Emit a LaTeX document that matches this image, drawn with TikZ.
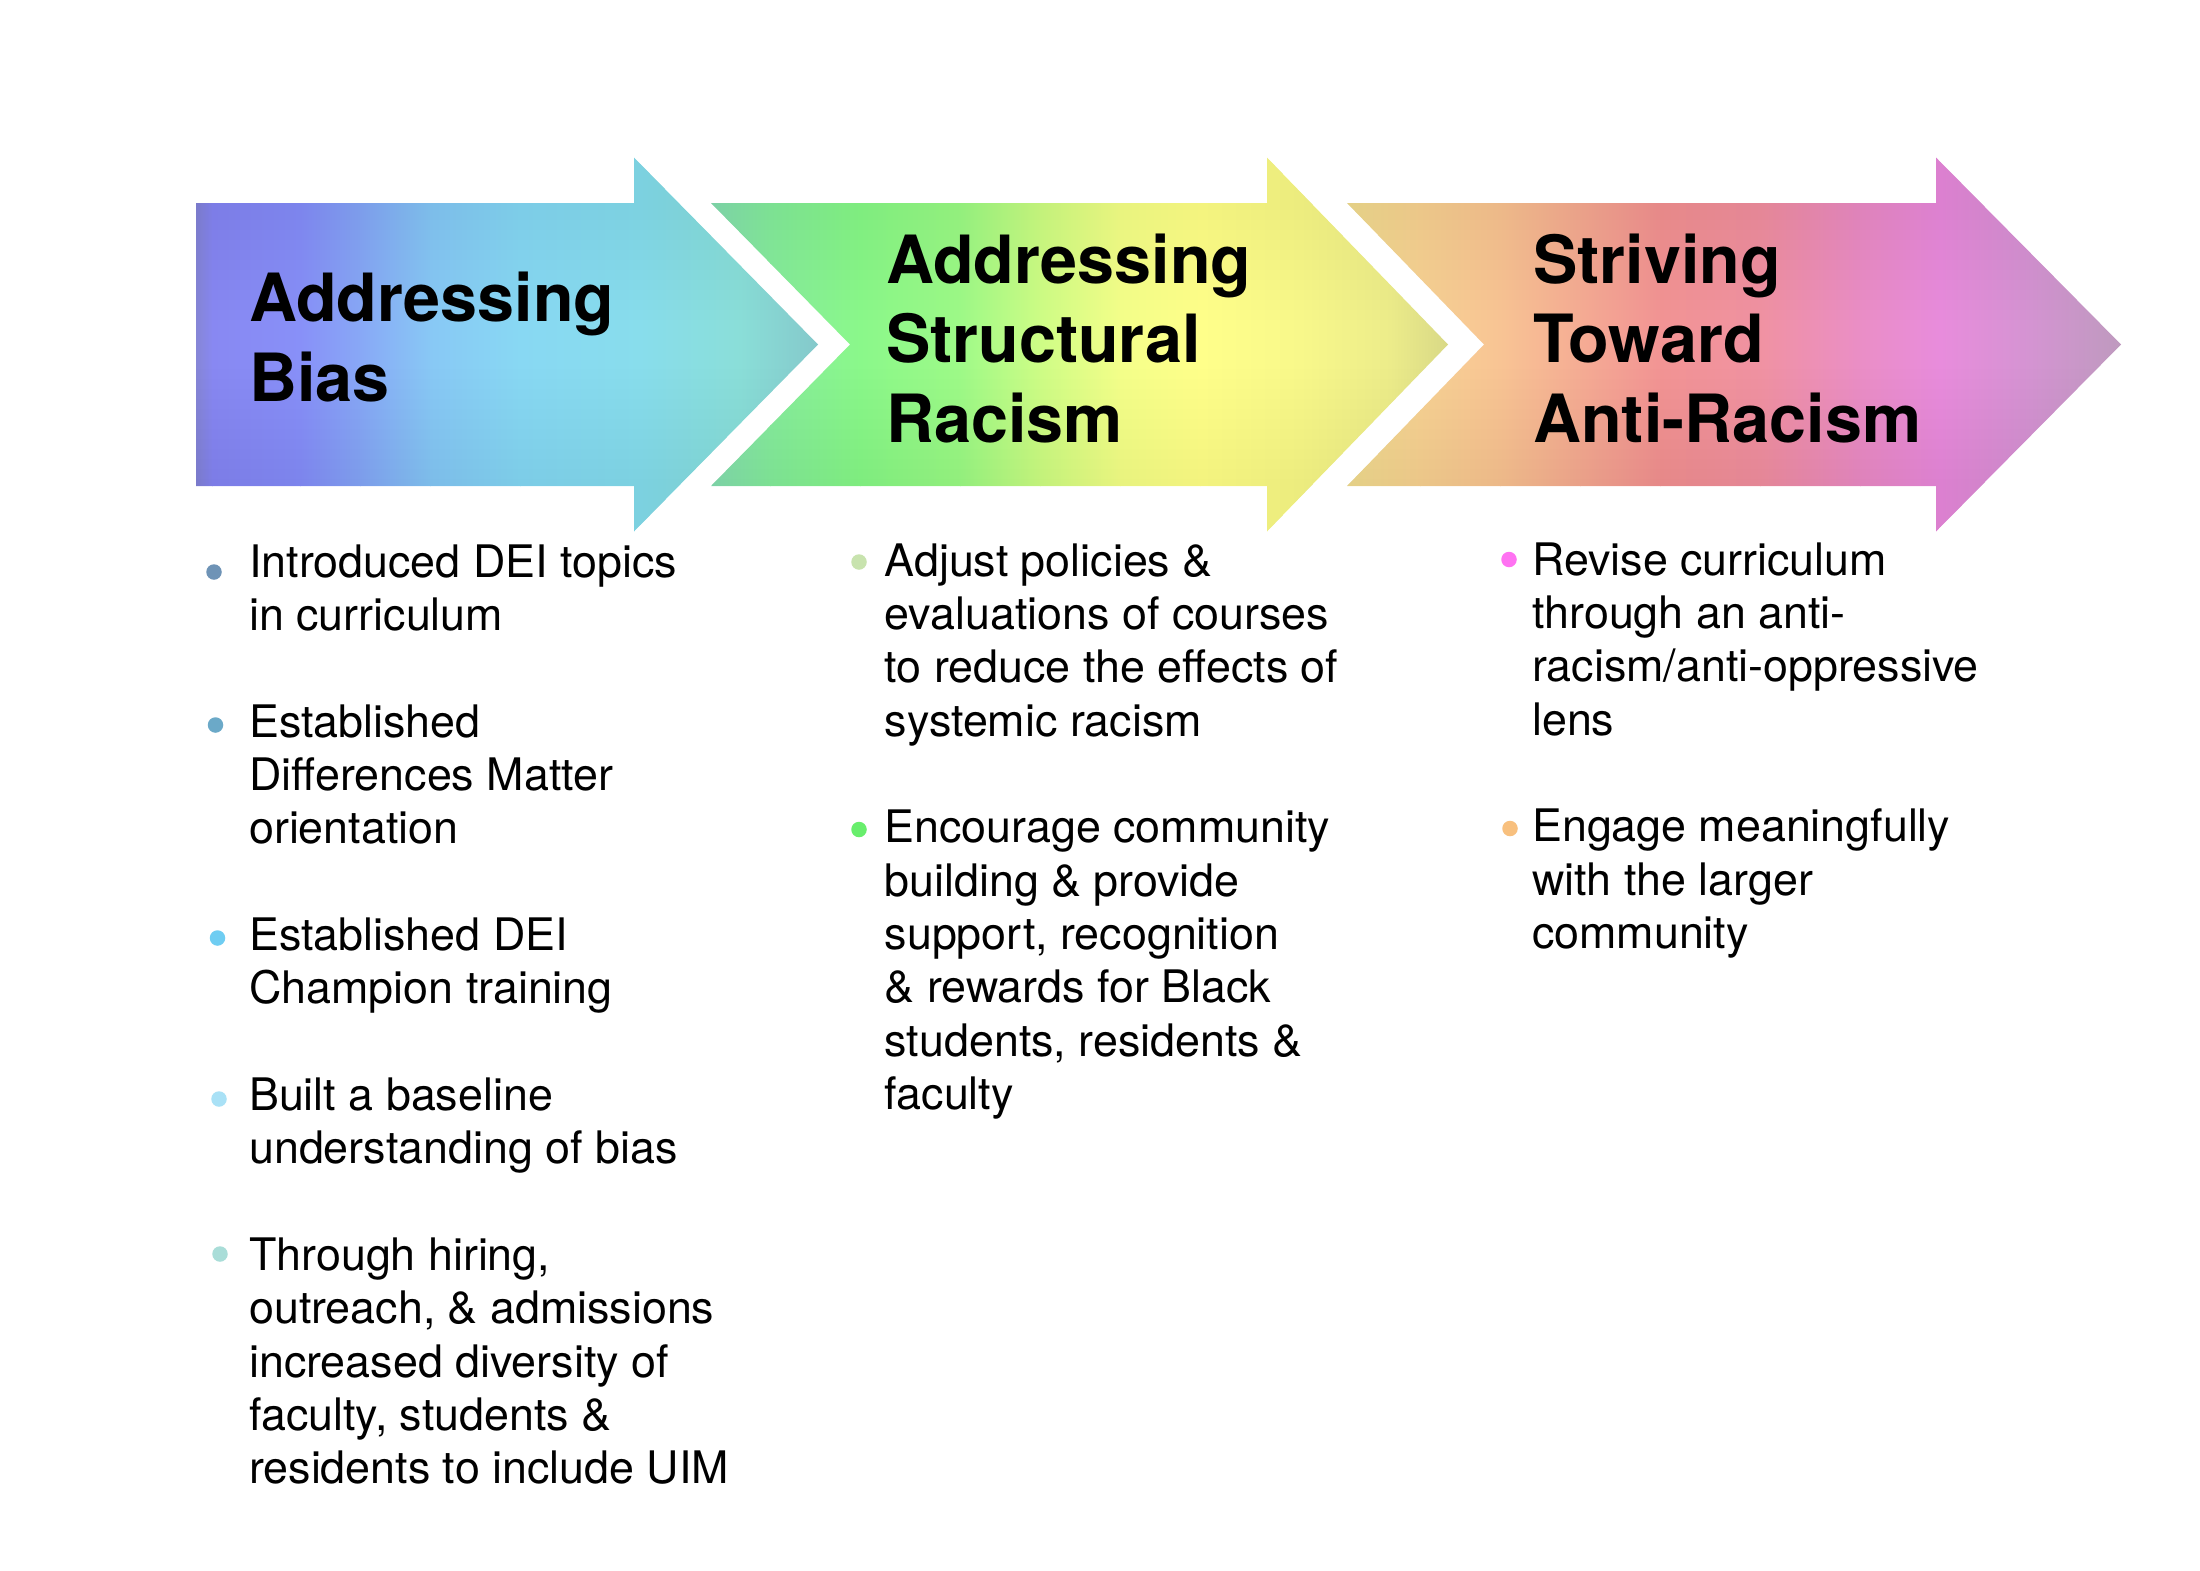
\documentclass[tikz,border=0pt]{standalone}
\usepackage{fontspec}
\setmainfont{TeX Gyre Heros}
% bullet colours
\definecolor{b11}{HTML}{6E93B6}
\definecolor{b12}{HTML}{6BA9C8}
\definecolor{b13}{HTML}{6FCDF2}
\definecolor{b14}{HTML}{A9E1F6}
\definecolor{b15}{HTML}{A9DDD8}
\definecolor{b21}{HTML}{C8E3AE}
\definecolor{b22}{HTML}{68EE6C}
\definecolor{b31}{HTML}{FF72F2}
\definecolor{b32}{HTML}{F8C07E}
% arrow 1 stops
\definecolor{pA0}{HTML}{8686D6}
\definecolor{pA1}{HTML}{8888F2}
\definecolor{pA2}{HTML}{8890F8}
\definecolor{pA3}{HTML}{88A8F6}
\definecolor{pA4}{HTML}{88C8F5}
\definecolor{pA5}{HTML}{88D8F3}
\definecolor{pA6}{HTML}{88DDEC}
\definecolor{pA7}{HTML}{8ADED8}
\definecolor{pA8}{HTML}{84C8CA}
% arrow 2 stops
\definecolor{pB0}{HTML}{88DDB2}
\definecolor{pB1}{HTML}{88EC9E}
\definecolor{pB2}{HTML}{8AF88A}
\definecolor{pB3}{HTML}{9EFA88}
\definecolor{pB4}{HTML}{CEFD86}
\definecolor{pB5}{HTML}{F4FF8A}
\definecolor{pB6}{HTML}{FFFF8A}
\definecolor{pB7}{HTML}{F8F88A}
\definecolor{pB8}{HTML}{ECEC8A}
\definecolor{pB9}{HTML}{D8D886}
% arrow 3 stops
\definecolor{pC0}{HTML}{F0DC92}
\definecolor{pC1}{HTML}{F7D294}
\definecolor{pC2}{HTML}{F8C494}
\definecolor{pC3}{HTML}{F5AC94}
\definecolor{pC4}{HTML}{F29494}
\definecolor{pC5}{HTML}{F092A2}
\definecolor{pC6}{HTML}{EA8EC6}
\definecolor{pC7}{HTML}{E88CDC}
\definecolor{pC8}{HTML}{D494D2}
\definecolor{pC9}{HTML}{BE9ABE}
\newcommand\gseg[4]{\shade[left color=#3, right color=#4] (#1,150) rectangle (#2+0.8,540);}
\newcommand\vign[2]{%
  \foreach \i in {0,...,11}{%
    \fill[black, opacity=0.004] (#1,157) rectangle (#2,210+\i*10);
    \fill[black, opacity=0.004] (#1,532) rectangle (#2,479-\i*10);
  }}
\begin{document}
\begin{tikzpicture}[x=1pt,y=-1pt,
  ttl/.style={font=\fontsize{66.5}{80}\selectfont\bfseries, anchor=base west, inner sep=0pt},
  bdy/.style={font=\fontsize{44.8}{53.4}\selectfont, anchor=base west, inner sep=0pt},
  bul/.style={circle, inner sep=0pt, minimum size=15.5pt, draw=none, fill=#1}]
\useasboundingbox (0,0) rectangle (2200,1571);
\fill[white] (0,0) rectangle (2200,1571);

% ---------- arrow 1
\begin{scope}
\clip (196,203) -- (634,203) -- (634,157.5) -- (818,344.5) -- (634,531.5) -- (634,486) -- (196,486) -- cycle;
\gseg{196}{212}{pA0}{pA1}
\gseg{212}{300}{pA1}{pA2}
\gseg{300}{360}{pA2}{pA3}
\gseg{360}{430}{pA3}{pA4}
\gseg{430}{520}{pA4}{pA5}
\gseg{520}{640}{pA5}{pA6}
\gseg{640}{740}{pA6}{pA7}
\gseg{740}{819}{pA7}{pA8}
\vign{190}{830}
\end{scope}

% ---------- arrow 2
\begin{scope}
\clip (711,203) -- (1267,203) -- (1267,157.5) -- (1448,344.5) -- (1267,531.5) -- (1267,486) -- (711,486) -- (850,344.5) -- cycle;
\gseg{711}{770}{pB0}{pB1}
\gseg{770}{860}{pB1}{pB2}
\gseg{860}{960}{pB2}{pB3}
\gseg{960}{1040}{pB3}{pB4}
\gseg{1040}{1120}{pB4}{pB5}
\gseg{1120}{1200}{pB5}{pB6}
\gseg{1200}{1300}{pB6}{pB7}
\gseg{1300}{1390}{pB7}{pB8}
\gseg{1390}{1449}{pB8}{pB9}
\vign{705}{1460}
\end{scope}

% ---------- arrow 3
\begin{scope}
\clip (1347,203) -- (1936,203) -- (1936,157.5) -- (2121,344.5) -- (1936,531.5) -- (1936,486) -- (1347,486) -- (1484,344.5) -- cycle;
\gseg{1347}{1420}{pC0}{pC1}
\gseg{1420}{1500}{pC1}{pC2}
\gseg{1500}{1580}{pC2}{pC3}
\gseg{1580}{1660}{pC3}{pC4}
\gseg{1660}{1760}{pC4}{pC5}
\gseg{1760}{1860}{pC5}{pC6}
\gseg{1860}{1940}{pC6}{pC7}
\gseg{1940}{2030}{pC7}{pC8}
\gseg{2030}{2122}{pC8}{pC9}
\vign{1340}{2130}
\end{scope}

% ---------- titles
\node[ttl] (t1a) at (249,321) {Addressing};
\node[ttl] (t1b) at (249,401) {Bias};
\node[ttl] (t2a) at (886,283) {Addressing};
\node[ttl] (t2b) at (886,362.5) {Structural};
\node[ttl] (t2c) at (886,442) {Racism};
\node[ttl] (t3a) at (1533,283) {Striving};
\node[ttl] (t3b) at (1533,362.5) {Toward};
\node[ttl] (t3c) at (1533,442) {Anti-Racism};

% ---------- column 1
\node[bul=b11] (d11) at (214,572) {};
\node[bul=b12] (d12) at (215.5,725) {};
\node[bul=b13] (d13) at (217.5,938) {};
\node[bul=b14] (d14) at (219,1099) {};
\node[bul=b15] (d15) at (220,1254) {};
\node[bdy] (c1l01) at (249,577) {Introduced DEI topics};
\node[bdy] (c1l02) at (249,630.35) {in curriculum};
\node[bdy] (c1l03) at (249,737.05) {Established};
\node[bdy] (c1l04) at (249,790.4) {Differences Matter};
\node[bdy] (c1l05) at (249,843.75) {orientation};
\node[bdy] (c1l06) at (249,950.45) {Established DEI};
\node[bdy] (c1l07) at (249,1003.8) {Champion training};
\node[bdy] (c1l08) at (249,1110.5) {Built a baseline};
\node[bdy] (c1l09) at (249,1163.85) {understanding of bias};
\node[bdy] (c1l10) at (249,1270.55) {Through hiring,};
\node[bdy] (c1l11) at (249,1323.9) {outreach, \& admissions};
\node[bdy] (c1l12) at (249,1377.25) {increased diversity of};
\node[bdy] (c1l13) at (249,1430.6) {faculty, students \&};
\node[bdy] (c1l14) at (249,1483.95) {residents to include UIM};

% ---------- column 2
\node[bul=b21] (d21) at (859,562) {};
\node[bul=b22] (d22) at (859,829.5) {};
\node[bdy] (c2l01) at (884.5,576) {Adjust policies \&};
\node[bdy] (c2l02) at (884.5,629.35) {evaluations of courses};
\node[bdy] (c2l03) at (884.5,682.7) {to reduce the effects of};
\node[bdy] (c2l04) at (884.5,736.05) {systemic racism};
\node[bdy] (c2l05) at (884.5,842.75) {Encourage community};
\node[bdy] (c2l06) at (884.5,896.1) {building \& provide};
\node[bdy] (c2l07) at (884.5,949.45) {support, recognition};
\node[bdy] (c2l08) at (884.5,1002.8) {\& rewards for Black};
\node[bdy] (c2l09) at (884.5,1056.15) {students, residents \&};
\node[bdy] (c2l10) at (884.5,1109.5) {faculty};

% ---------- column 3
\node[bul=b31] (d31) at (1509,559.5) {};
\node[bul=b32] (d32) at (1510,828.5) {};
\node[bdy] (c3l01) at (1532,575) {Revise curriculum};
\node[bdy] (c3l02) at (1532,628.35) {through an anti-};
\node[bdy] (c3l03) at (1532,681.7) {racism/anti-oppressive};
\node[bdy] (c3l04) at (1532,735.05) {lens};
\node[bdy] (c3l05) at (1532,841.75) {Engage meaningfully};
\node[bdy] (c3l06) at (1532,895.1) {with the larger};
\node[bdy] (c3l07) at (1532,948.45) {community};
\end{tikzpicture}
\end{document}
